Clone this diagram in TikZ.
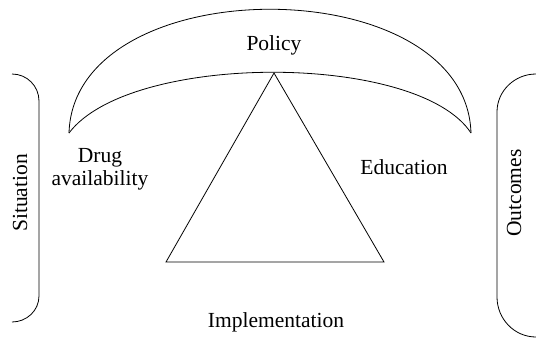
\documentclass[tikz,border=0pt]{standalone}
\usepackage{fontspec}
\setmainfont{Liberation Serif}
\begin{document}
\begin{tikzpicture}[x=1pt, y=-1pt, line width=0.8pt,
		lbl/.style={font=\fontsize{21.5}{23}\selectfont, inner sep=0pt, align=center}]
		\useasboundingbox (0, 0) rectangle (536, 341);
		% corners
		\coordinate (tip) at (274, 73);
		\coordinate (bl) at (166, 262);
		\coordinate (br) at (384, 262);
		\coordinate (pl) at (69, 133);
		\coordinate (pr) at (471, 133);
		% labels
		\node[lbl] (policy) at (274, 45) {Policy};
		\node[lbl] (drug) at (100, 169) {Drug\\availability};
		\node[lbl] (education) at (404, 167) {Education};
		\node[lbl] (implementation) at (276, 322) {Implementation};
		\node[lbl, rotate=90] (situation) at (20, 193) {Situation};
		\node[lbl, rotate=90] (outcomes) at (514, 193) {Outcomes};
		% policy crescent
		\draw (pl) .. controls (74, -32) and (466, -32) .. (pr);
		\draw (pl) .. controls (130, 52) and (418, 52) .. (pr);
		% triangle
		\draw[line join=miter] (tip) -- (bl) -- (br) -- cycle;
		% side brackets
		\draw (12, 74) to[out=0, in=90] (39, 101) -- (39, 296) to[out=-90, in=0] (12, 322);
		\draw (536, 74) to[out=180, in=90] (497, 112) -- (497, 297) to[out=-90, in=180] (536, 337);
	\end{tikzpicture}
\end{document}
